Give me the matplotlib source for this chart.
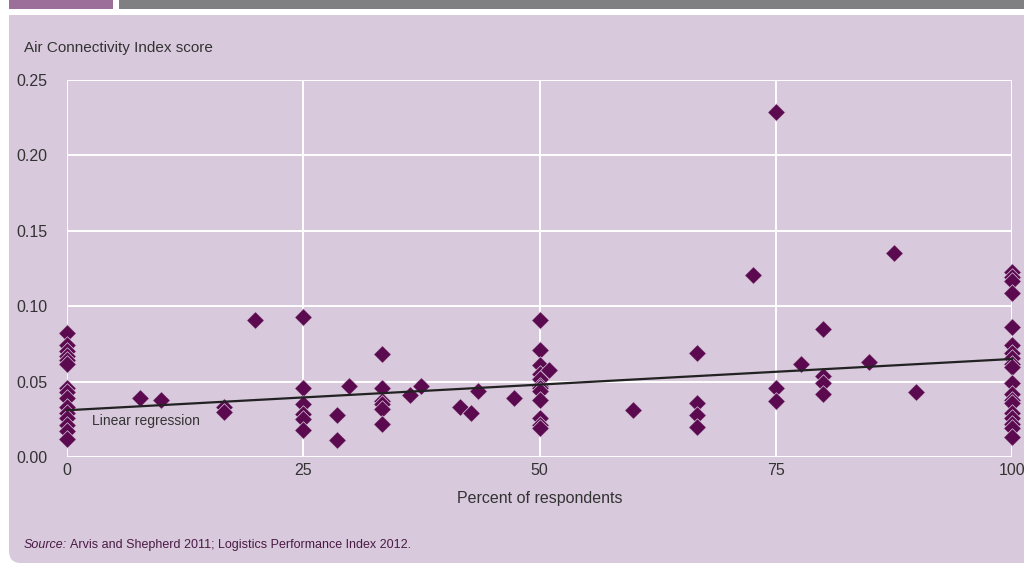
import numpy as np
import matplotlib
matplotlib.use('Agg')
import matplotlib.pyplot as plt
from matplotlib.patches import FancyBboxPatch, Rectangle

# percent of respondents (x) and Air Connectivity Index score (y)
pct = [0, 0, 0, 0, 0, 0, 0, 0, 0, 0, 0, 0, 0, 0, 0,
       7.7, 9.9, 16.6, 16.6, 19.9,
       25, 25, 25, 25, 25, 25,
       28.6, 28.6, 29.8,
       33.3, 33.3, 33.3, 33.3, 33.3, 33.3,
       36.3, 37.5, 41.6, 42.8, 43.5, 47.3,
       50, 50, 50, 50, 50, 50, 50, 50, 50, 50, 50, 50,
       51.0, 59.9,
       66.7, 66.7, 66.7, 66.7,
       72.6, 75, 75, 75, 77.7,
       80, 80, 80, 80, 84.9, 87.5, 89.8,
       100, 100, 100, 100, 100, 100, 100, 100, 100, 100,
       100, 100, 100, 100, 100, 100, 100, 100, 100]
score = [0.082, 0.074, 0.070, 0.067, 0.064, 0.062, 0.046, 0.043, 0.039, 0.033,
         0.029, 0.026, 0.021, 0.017, 0.012,
         0.039, 0.038, 0.033, 0.030, 0.091,
         0.093, 0.046, 0.035, 0.0285, 0.025, 0.018,
         0.028, 0.011, 0.047,
         0.068, 0.0455, 0.037, 0.035, 0.032, 0.022,
         0.041, 0.047, 0.033, 0.029, 0.044, 0.039,
         0.091, 0.071, 0.061, 0.055, 0.052, 0.047, 0.0455, 0.044, 0.038,
         0.026, 0.021, 0.019,
         0.058, 0.031,
         0.069, 0.036, 0.028, 0.020,
         0.121, 0.229, 0.046, 0.037, 0.0615,
         0.085, 0.054, 0.049, 0.042, 0.063, 0.135, 0.043,
         0.123, 0.1196, 0.117, 0.1085, 0.086, 0.074, 0.069, 0.0654, 0.062, 0.0595,
         0.049, 0.042, 0.038, 0.0356, 0.029, 0.0257, 0.022, 0.019, 0.0135]

# regression line end points
reg_x = [0, 100]
reg_y = [0.031, 0.065]

x_ticks = [0, 25, 50, 75, 100]
y_ticks = [0.00, 0.05, 0.10, 0.15, 0.20, 0.25]

panel_col = '#d8c9dc'
mark_col = '#5c0a50'
plt.rcParams['font.family'] = ['Liberation Sans', 'DejaVu Sans']

fig = plt.figure(figsize=(10.24, 5.63), dpi=100)
fig.patch.set_facecolor('white')

# background panel and header bars, in inches (100 px per inch)
tr = fig.dpi_scale_trans
fig.patches.append(FancyBboxPatch((0.09, 0.0), 10.5, 5.48,
                                  boxstyle='round,pad=0,rounding_size=0.12',
                                  transform=tr, facecolor=panel_col,
                                  edgecolor='none', zorder=-5))
fig.patches.append(Rectangle((0.09, 1.0), 10.5, 4.48, transform=tr,
                             facecolor=panel_col, edgecolor='none', zorder=-5))
fig.patches.append(Rectangle((0.09, 5.54), 1.04, 0.09, transform=tr,
                             facecolor='#9c6f9b', edgecolor='none', zorder=-5))
fig.patches.append(Rectangle((1.19, 5.54), 9.5, 0.09, transform=tr,
                             facecolor='#808083', edgecolor='none', zorder=-5))

W, H = 1024, 563
ax = fig.add_axes([67 / W, 1 - 457 / H, (1012 - 67) / W, (457 - 80) / H])
ax.set_facecolor('none')
ax.set_xlim(0, 100)
ax.set_ylim(0, 0.25)
ax.set_xticks(x_ticks)
ax.set_yticks(y_ticks)
ax.set_yticklabels([f'{v:.2f}' for v in y_ticks])
ax.grid(True, color='white', linewidth=1.4)
ax.set_axisbelow(True)
for s in ax.spines.values():
    s.set_visible(False)
ax.tick_params(length=0, labelsize=11.5, colors='#333333')
ax.tick_params(axis='y', pad=14)
ax.tick_params(axis='x', pad=4)

ax.scatter(pct, score, marker='D', s=80, color=mark_col,
           edgecolors=panel_col, linewidths=0.5, zorder=3, clip_on=False)
ax.plot(reg_x, reg_y, color='#222222', linewidth=1.6, zorder=4, clip_on=False)
ax.text(2.6, 0.024, 'Linear regression', fontsize=10, color='#333333',
        va='center', ha='left')

ax.set_xlabel('Percent of respondents', fontsize=11.5, color='#333333', labelpad=10)
fig.text(24 / W, 1 - 48 / H, 'Air Connectivity Index score', fontsize=11,
         color='#333333', va='center', ha='left')
src1 = fig.text(24 / W, 1 - 545 / H, 'Source:', fontsize=9, style='italic',
                color='#4a1a45', va='center', ha='left')
r = fig.canvas.get_renderer()
bb = src1.get_window_extent(renderer=r)
fig.text((bb.x1 + 3) / W, 1 - 545 / H,
         'Arvis and Shepherd 2011; Logistics Performance Index 2012.',
         fontsize=9, color='#4a1a45', va='center', ha='left')

fig.savefig('out.png', dpi=100)
